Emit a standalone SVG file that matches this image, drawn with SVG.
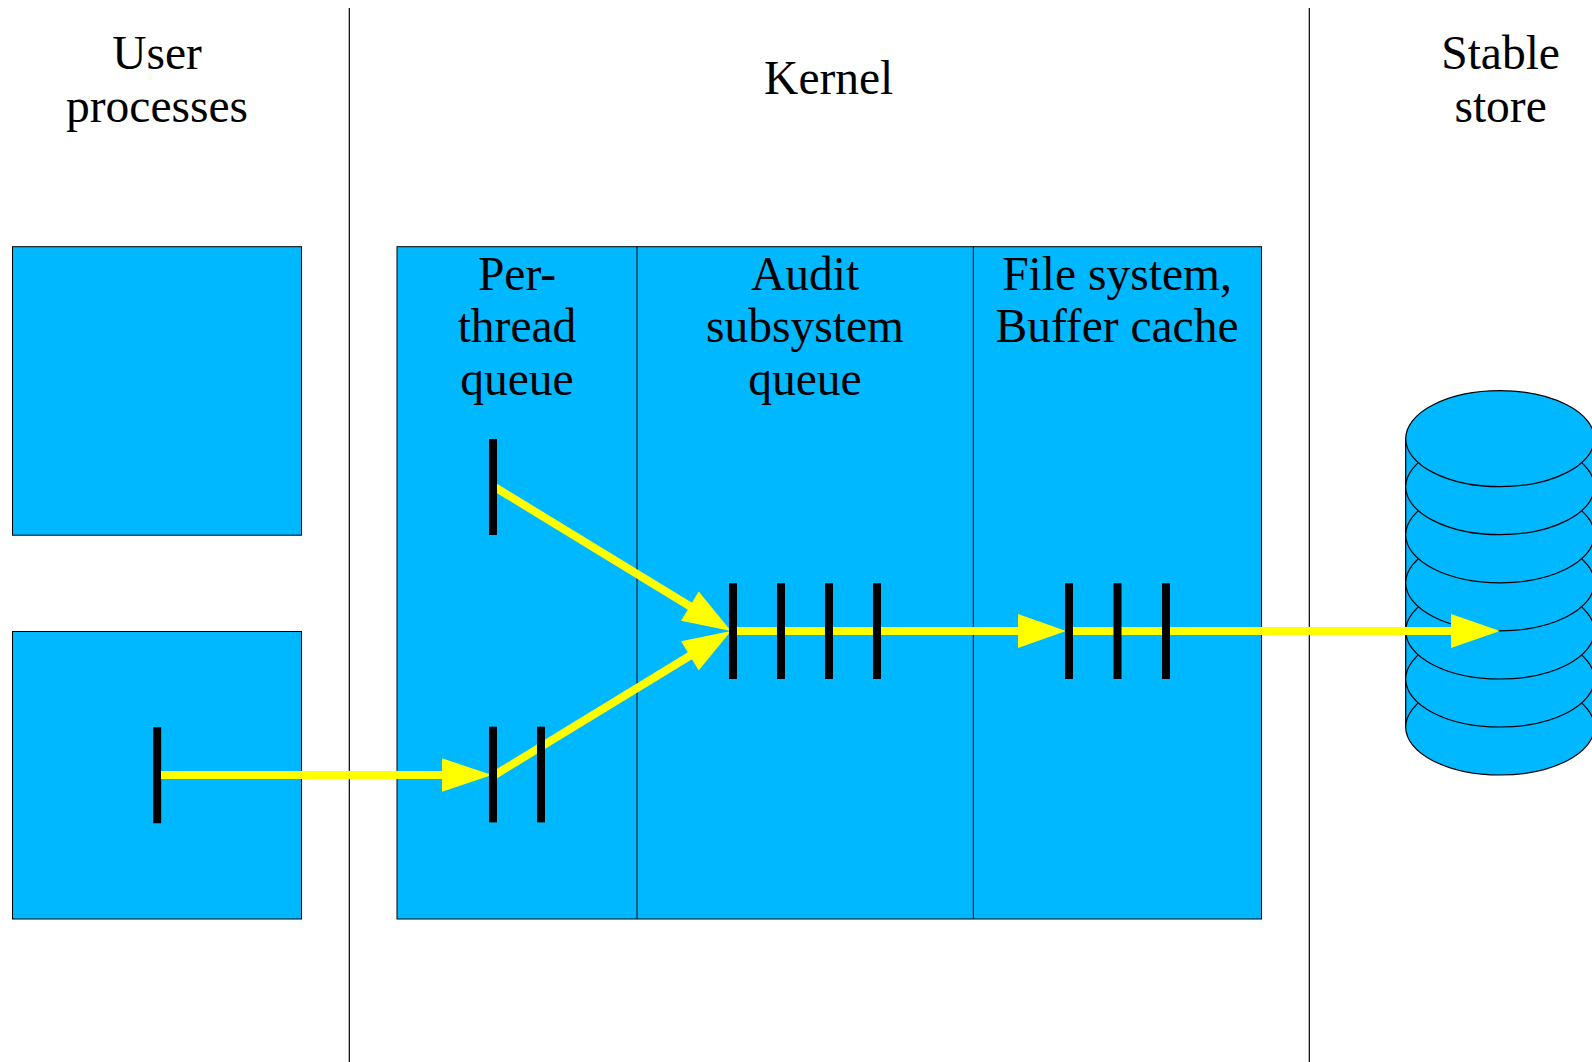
<svg xmlns="http://www.w3.org/2000/svg" width="1592" height="1062" viewBox="0 0 1592 1062">
  <style>
    .lbl { font-family: "Liberation Serif", "Times New Roman", serif; font-size: 47.5px; fill: #000; text-anchor: middle; }
    .box { fill: #00b8ff; stroke: #000; stroke-width: 1; }
    .sep { stroke: #000; stroke-width: 1.2; fill: none; }
    .div { stroke: #000; stroke-width: 1; fill: none; }
    .bar { stroke: #000; stroke-width: 8; fill: none; }
    .flow { stroke: #ffff00; stroke-width: 8; fill: none; }
    .head { fill: #ffff00; stroke: none; }
    .disk { fill: #00b8ff; stroke: #000; stroke-width: 1.2; }
  </style>
  <rect width="1592" height="1062" fill="#ffffff"/>

  <g id="separators">
    <line class="sep" x1="349.3" y1="8" x2="349.3" y2="1062"/>
    <line class="sep" x1="1309.3" y1="8" x2="1309.3" y2="1062"/>
  </g>

  <g id="headings">
    <text class="lbl" x="157" y="69.3">User</text>
    <text class="lbl" x="157" y="122">processes</text>
    <text class="lbl" x="828.7" y="94.3">Kernel</text>
    <text class="lbl" x="1500.6" y="69.3">Stable</text>
    <text class="lbl" x="1500.6" y="122">store</text>
  </g>

  <g id="user-process-1">
    <rect class="box" x="12.5" y="246.7" width="289" height="288.5"/>
  </g>

  <g id="user-process-2">
    <rect class="box" x="12.5" y="631.5" width="289" height="287.5"/>
    <line class="bar" x1="157.2" y1="727.3" x2="157.2" y2="823.3"/>
  </g>

  <g id="kernel">
    <rect class="box" x="397" y="246.7" width="864.5" height="672.3"/>
    <line class="div" x1="637" y1="246.7" x2="637" y2="919"/>
    <line class="div" x1="973.3" y1="246.7" x2="973.3" y2="919"/>
  </g>

  <g id="stable-store">
    <rect class="disk" x="1405.7" y="438.7" width="188.6" height="288.5"/>
    <ellipse class="disk" cx="1500" cy="727" rx="94.3" ry="48"/>
    <ellipse class="disk" cx="1500" cy="679" rx="94.3" ry="48"/>
    <ellipse class="disk" cx="1500" cy="631" rx="94.3" ry="48"/>
    <ellipse class="disk" cx="1500" cy="582.8" rx="94.3" ry="48"/>
    <ellipse class="disk" cx="1500" cy="534.8" rx="94.3" ry="48"/>
    <ellipse class="disk" cx="1500" cy="486.7" rx="94.3" ry="48"/>
    <ellipse class="disk" cx="1500" cy="438.7" rx="94.3" ry="48"/>
  </g>

  <g id="connectors">
    <line class="flow" x1="161" y1="775" x2="446" y2="775"/>
    <polygon class="head" points="442,758.3 492,775 442,791.7"/>

    <line class="flow" x1="493" y1="486" x2="692" y2="607.5"/>
    <polygon class="head" points="681.1,620.7 731,631 698.7,591.6"/>

    <line class="flow" x1="493" y1="776" x2="692" y2="654.5"/>
    <polygon class="head" points="681.1,641.3 731,631 698.7,670.4"/>

    <line class="flow" x1="733" y1="631" x2="1022" y2="631"/>
    <polygon class="head" points="1018,614 1066,631 1018,648"/>

    <line class="flow" x1="1069" y1="631" x2="1455" y2="631"/>
    <polygon class="head" points="1451,614 1500,631 1451,648"/>
  </g>

  <g id="per-thread-queue">
    <text class="lbl" x="517" y="289.5">Per-</text>
    <text class="lbl" x="517" y="342">thread</text>
    <text class="lbl" x="517" y="394.7">queue</text>
    <line class="bar" x1="493" y1="439" x2="493" y2="535"/>
    <line class="bar" x1="493" y1="726.7" x2="493" y2="822.4"/>
    <line class="bar" x1="541" y1="726.7" x2="541" y2="822.4"/>
  </g>

  <g id="audit-subsystem-queue">
    <text class="lbl" x="805" y="289.5">Audit</text>
    <text class="lbl" x="805" y="342">subsystem</text>
    <text class="lbl" x="805" y="394.7">queue</text>
    <line class="bar" x1="733" y1="583.3" x2="733" y2="679"/>
    <line class="bar" x1="781" y1="583.3" x2="781" y2="679"/>
    <line class="bar" x1="829" y1="583.3" x2="829" y2="679"/>
    <line class="bar" x1="877" y1="583.3" x2="877" y2="679"/>
  </g>

  <g id="file-system-buffer-cache">
    <text class="lbl" x="1117" y="289.5">File system,</text>
    <text class="lbl" x="1117" y="342">Buffer cache</text>
    <line class="bar" x1="1069" y1="583.3" x2="1069" y2="679"/>
    <line class="bar" x1="1117.5" y1="583.3" x2="1117.5" y2="679"/>
    <line class="bar" x1="1166" y1="583.3" x2="1166" y2="679"/>
  </g>
</svg>
